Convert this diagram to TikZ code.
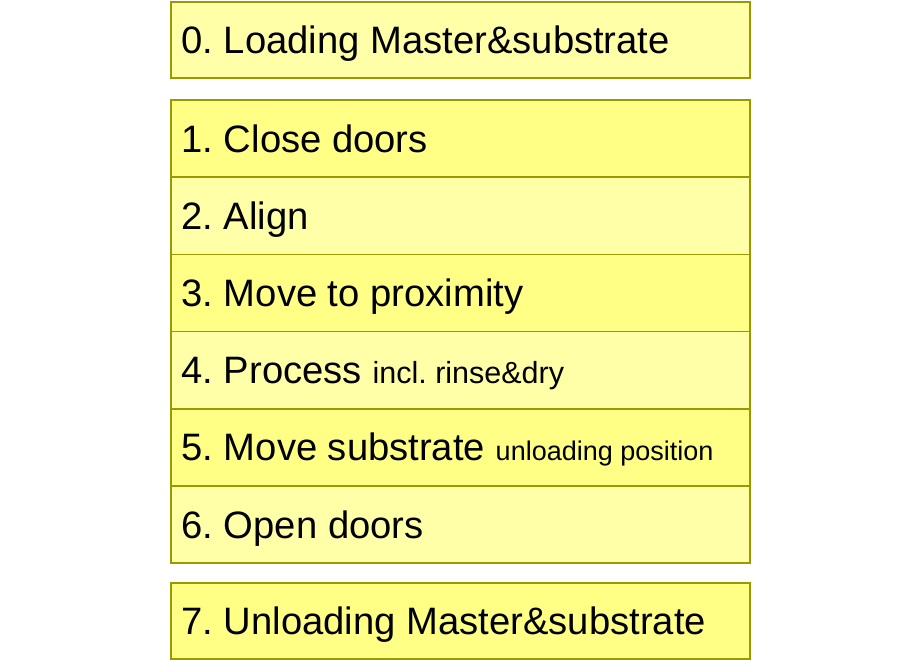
\documentclass[tikz,border=0pt]{standalone}
\usepackage{fontspec}
\setmainfont{Liberation Sans}
\usepackage{xcolor}
\usetikzlibrary{positioning}
\definecolor{stepdeep}{HTML}{FFFF86}
\definecolor{steppale}{HTML}{FFFFA8}
\definecolor{stepedge}{HTML}{999900}
\newcommand{\stepnote}[2][27]{{\fontsize{#1}{30}\selectfont #2}}
\frenchspacing

\begin{document}
\begin{tikzpicture}[x=1pt, y=-1pt,
  stepbox/.style={draw=stepedge, line width=1.5pt, outer sep=0pt,
    minimum width=579pt, minimum height=77.2pt, inner xsep=10.5pt,
    text width=558pt, align=flush left, text height=27pt, text depth=0pt,
    font=\fontsize{38.2}{40}\selectfont},
  endbox/.style={stepbox, minimum height=76pt}]
\useasboundingbox (0,0) rectangle (920,660);
% loading / unloading frame the six process steps
\node[endbox, fill=steppale] (st0) at (460.5,40) {0. Loading Master\&substrate};
\node[stepbox, fill=stepdeep, below=22pt of st0] (st1) {1. Close doors};
\node[stepbox, fill=steppale, below=0pt of st1] (st2) {2. Align};
\node[stepbox, fill=stepdeep, below=0pt of st2] (st3) {3. Move to proximity};
\node[stepbox, fill=steppale, below=0pt of st3] (st4) {4. Process \stepnote[30.5]{incl. rinse\&dry}};
\node[stepbox, fill=stepdeep, below=0pt of st4] (st5) {5. Move substrate \stepnote{unloading position}};
\node[stepbox, fill=steppale, below=0pt of st5] (st6) {6. Open doors};
\node[endbox, fill=stepdeep, below=20pt of st6] (st7) {7. Unloading Master\&substrate};
\end{tikzpicture}
\end{document}
